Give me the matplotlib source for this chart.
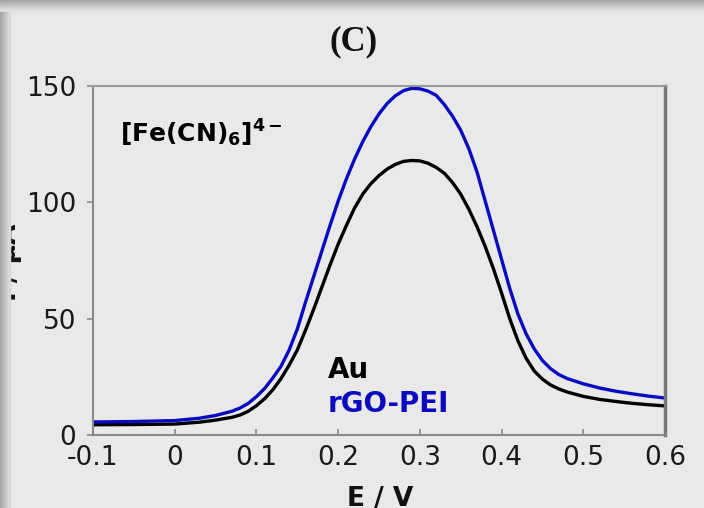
import matplotlib.pyplot as plt
from matplotlib.patches import Rectangle

# potential (V) and current (uA)
e_au = [-0.10, -0.05, 0.00, 0.03, 0.05, 0.07, 0.08, 0.09, 0.10, 0.11,
        0.12, 0.13, 0.14, 0.15, 0.16, 0.17, 0.18, 0.19, 0.20, 0.21,
        0.22, 0.23, 0.24, 0.25, 0.26, 0.27, 0.28, 0.29, 0.30, 0.31,
        0.32, 0.33, 0.34, 0.35, 0.36, 0.37, 0.38, 0.39, 0.40, 0.41,
        0.42, 0.43, 0.44, 0.45, 0.46, 0.47, 0.48, 0.50, 0.52, 0.54,
        0.56, 0.58, 0.60]
i_au = [4.4, 4.5, 4.7, 5.5, 6.4, 7.6, 8.6, 10.2, 12.6, 15.6,
        19.4, 24.2, 30.0, 36.5, 45.0, 54.0, 63.5, 73.0, 82.0, 90.0,
        97.5, 103.5, 108.0, 111.5, 114.3, 116.3, 117.6, 118.0, 117.8, 116.8,
        115.0, 112.5, 108.5, 103.5, 97.0, 89.5, 81.0, 71.5, 61.0, 50.0,
        40.5, 33.0, 27.5, 24.0, 21.5, 19.8, 18.5, 16.6, 15.3, 14.4,
        13.6, 13.0, 12.5]

e_rgo = [-0.10, -0.05, 0.00, 0.03, 0.05, 0.07, 0.08, 0.09, 0.10, 0.11,
         0.12, 0.13, 0.14, 0.15, 0.16, 0.17, 0.18, 0.19, 0.20, 0.21,
         0.22, 0.23, 0.24, 0.25, 0.26, 0.27, 0.28, 0.29, 0.30, 0.31,
         0.32, 0.33, 0.34, 0.35, 0.36, 0.37, 0.38, 0.39, 0.40, 0.41,
         0.42, 0.43, 0.44, 0.45, 0.46, 0.47, 0.48, 0.50, 0.52, 0.54,
         0.56, 0.58, 0.60]
i_rgo = [5.6, 5.8, 6.2, 7.2, 8.4, 10.2, 11.6, 13.6, 16.5, 20.0,
         24.5, 29.5, 36.5, 45.5, 57.0, 68.0, 79.0, 90.0, 100.5, 110.0,
         118.5, 126.0, 132.5, 138.0, 142.5, 145.8, 148.0, 149.0, 148.8, 147.8,
         146.0, 142.0, 137.0, 131.0, 123.0, 113.0, 100.5, 88.0, 75.5, 63.0,
         52.0, 43.5, 37.0, 32.0, 28.5, 26.0, 24.3, 22.0, 20.2, 18.8,
         17.7, 16.7, 15.9]

xticks = [-0.1, 0, 0.1, 0.2, 0.3, 0.4, 0.5, 0.6]
xtick_labels = ['-0.1', '0', '0.1', '0.2', '0.3', '0.4', '0.5', '0.6']
yticks = [0, 50, 100, 150]

plt.rcParams['mathtext.fontset'] = 'dejavusans'
plt.rcParams['mathtext.default'] = 'bf'

bg = '#e9e9e9'
fig = plt.figure(figsize=(7.04, 5.08), dpi=100, facecolor=bg)
W, H = 704, 508
ax = fig.add_axes([93 / W, 1 - 435 / H, (665 - 93) / W, (435 - 86) / H])
ax.set_facecolor(bg)

ax.plot(e_au, i_au, color='black', lw=2.4, solid_joinstyle='round')
ax.plot(e_rgo, i_rgo, color='#0a0ac0', lw=2.4, solid_joinstyle='round')

ax.set_xlim(-0.1, 0.6)
ax.set_ylim(0, 150)
ax.set_xticks(xticks)
ax.set_xticklabels(xtick_labels)
ax.set_yticks(yticks)

for s in ax.spines.values():
    s.set_color('#8a8a8a')
    s.set_linewidth(1.5)
ax.spines['top'].set_color('#9a9a9a')
ax.spines['right'].set_color('#777777')
ax.spines['right'].set_linewidth(2.5)

ax.tick_params(axis='x', direction='in', length=4, width=1.2, color='#8a8a8a',
               pad=7, labelsize=19, labelcolor='#1a1a1a')
ax.tick_params(axis='y', direction='out', length=4, width=1.2, color='#8a8a8a',
               pad=8, labelsize=19, labelcolor='#1a1a1a')

ax.text(0.047, 0.838, r'[Fe(CN)$_6$]$^{4-}$', transform=ax.transAxes,
        fontsize=18, fontweight='bold', color='black', va='baseline')
ax.text(0.411, 0.163, 'Au', transform=ax.transAxes,
        fontsize=20, fontweight='bold', color='black', va='baseline')
ax.text(0.411, 0.066, 'rGO-PEI', transform=ax.transAxes,
        fontsize=20, fontweight='bold', color='#0a0ac0', va='baseline')

fig.text(354 / W, 1 - 42 / H, '(C)', family='Liberation Serif', fontweight='bold',
         fontsize=25, ha='center', va='center', color='#111111')
fig.text(380 / W, 1 - 486 / H, 'E / V', fontsize=19, fontweight='bold',
         ha='center', va='top', color='#111111')
fig.text(22 / W, 1 - 262 / H, 'I / µA', fontsize=19, fontweight='bold',
         rotation=90, ha='right', va='center', color='#111111')

# shadow bands along the top and left edges of the scan
for k, c in enumerate(['#a8a8a8', '#b4b4b4', '#c0c0c0', '#cccccc', '#d8d8d8', '#e2e2e2']):
    fig.patches.append(Rectangle((0, 1 - (k + 1) * 2 / H), 1, 2 / H,
                                 transform=fig.transFigure, color=c, zorder=5))
for k, c in enumerate(['#a8a8a8', '#b4b4b4', '#c0c0c0', '#cccccc', '#d8d8d8']):
    fig.patches.append(Rectangle((k * 2 / W, 0), 2 / W, 1 - 12 / H,
                                 transform=fig.transFigure, color=c, zorder=5))

fig.savefig('out.png', dpi=100, facecolor=bg)
